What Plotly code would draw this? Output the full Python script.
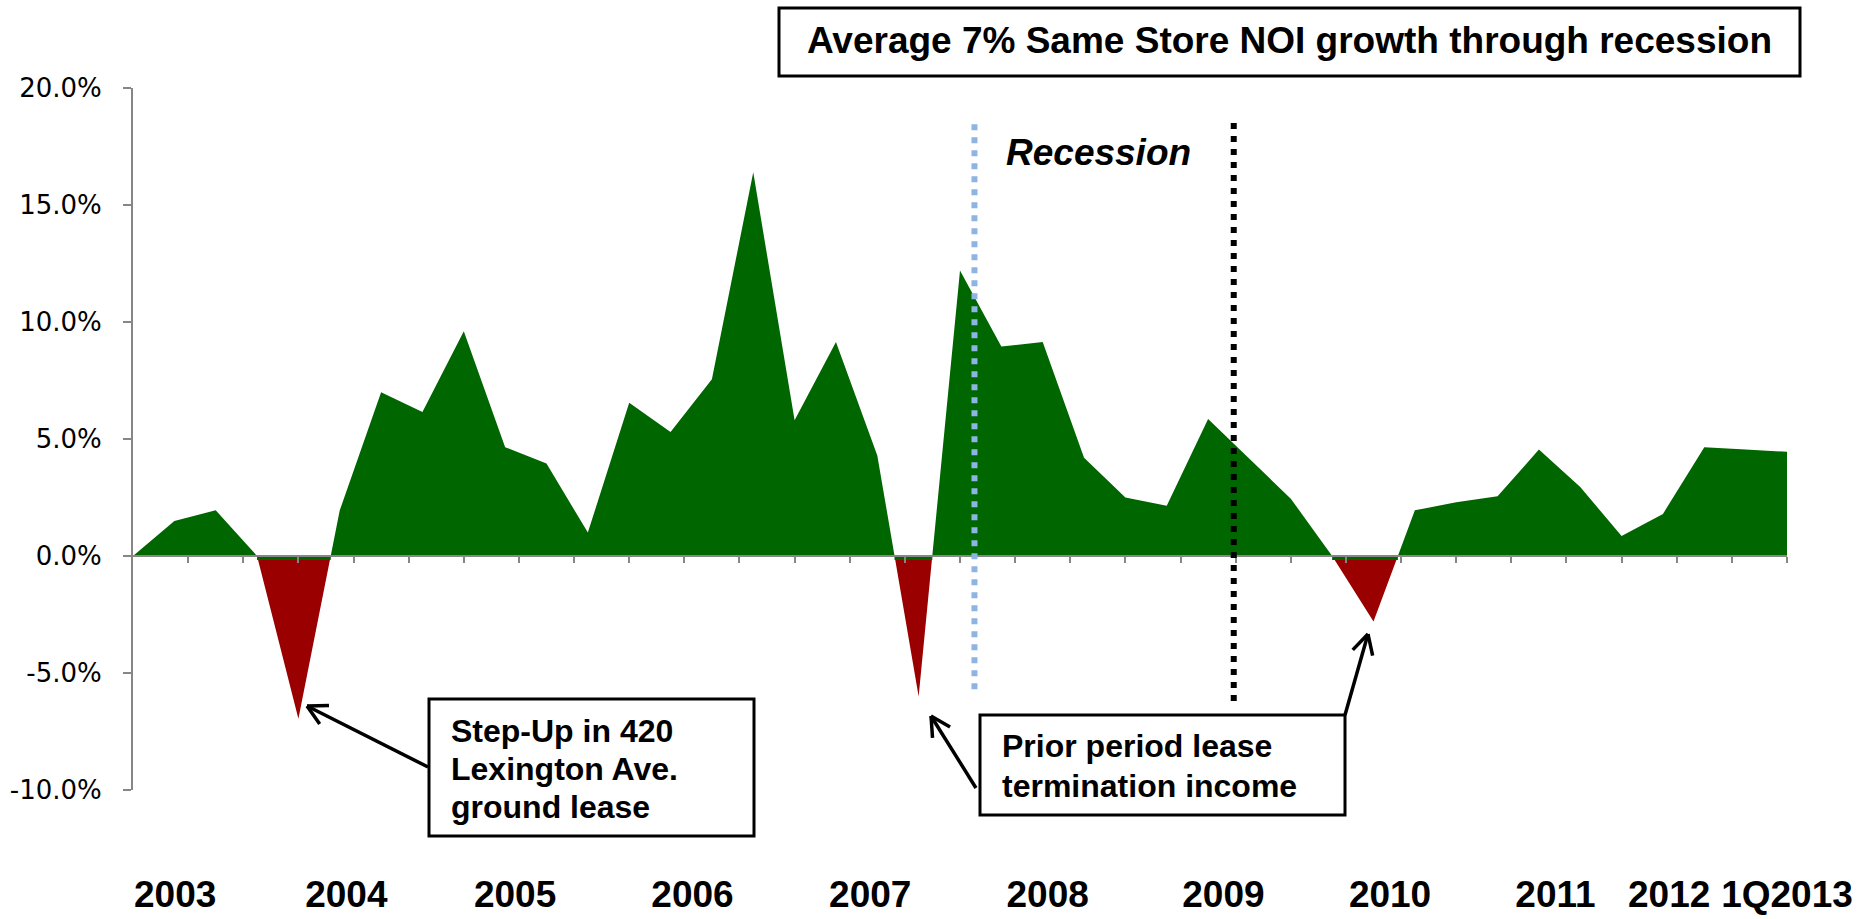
import math
import plotly.graph_objects as go

# Same store NOI growth by quarter (%), quarter index 0..40
quarter_idx = list(range(41))
noi_growth = [0.0, 1.5, 1.95, 0.0, -6.95, 1.95, 7.0, 6.15, 9.6, 4.65,
              3.95, 1.0, 6.55, 5.3, 7.55, 16.4, 5.8, 9.15, 4.3, -6.0,
              12.2, 8.95, 9.15, 4.2, 2.5, 2.15, 5.85, 4.15, 2.45, 0.0,
              -2.8, 1.95, 2.3, 2.55, 4.55, 2.95, 0.85, 1.8, 4.65, 4.55,
              4.45]

year_labels = ["2003", "2004", "2005", "2006", "2007", "2008", "2009",
               "2010", "2011", "2012", "1Q2013"]
y_ticks = [-10, -5, 0, 5, 10, 15, 20]

# Where each year label sits along the quarter axis
year_label_pos = [1.02, 5.16, 9.24, 13.53, 17.83, 22.12, 26.37, 30.4,
                  34.4, 37.15, 40.0]
# Recession start / end markers (quarter axis)
recession_start, recession_end = 20.35, 26.62

GREEN = "#006600"
RED = "#9A0000"
AXIS_GRAY = "#868686"
FONT = "Liberation Sans"

W, H = 1874, 919
L, R, T, B = 133, 87, 88, 129
PW, PH = W - L - R, H - T - B


def px_x(px):
    return (px - L) / PW


def px_y(py):
    return (H - B - py) / PH


def split_sign(xs, ys):
    """Insert zero crossings so positive and negative parts fill cleanly."""
    ox, oy = [xs[0]], [ys[0]]
    for i in range(1, len(xs)):
        x0, y0, x1, y1 = xs[i - 1], ys[i - 1], xs[i], ys[i]
        if y0 * y1 < 0:
            ox.append(x0 + (x1 - x0) * y0 / (y0 - y1))
            oy.append(0.0)
        ox.append(x1)
        oy.append(y1)
    return ox, [max(v, 0.0) for v in oy], [min(v, 0.0) for v in oy]


sx, pos_part, neg_part = split_sign(quarter_idx, noi_growth)

# spans of negative growth (between zero points)
neg_spans = []
i = 0
while i < len(sx):
    if neg_part[i] < 0:
        j = i
        while j + 1 < len(sx) and neg_part[j + 1] < 0:
            j += 1
        neg_spans.append((sx[i - 1], sx[j + 1]))
        i = j + 1
    else:
        i += 1

fig = go.Figure()

fig.add_trace(go.Scatter(x=sx, y=neg_part, mode="lines", fill="tozeroy",
                         fillcolor=RED, line=dict(width=0, color=RED),
                         hoverinfo="skip", showlegend=False))

# thin green edge along the top of each negative dip
strip = 0.17
for a, b in neg_spans:
    fig.add_trace(go.Scatter(x=[a, b, b, a, a], y=[0, 0, -strip, -strip, 0],
                             mode="lines", fill="toself", fillcolor=GREEN,
                             line=dict(width=0, color=GREEN),
                             hoverinfo="skip", showlegend=False))

fig.add_trace(go.Scatter(x=sx, y=pos_part, mode="lines", fill="tozeroy",
                         fillcolor=GREEN, line=dict(width=0, color=GREEN),
                         hoverinfo="skip", showlegend=False))

# carrier for the year-label axis
fig.add_trace(go.Scatter(x=year_label_pos, y=[None] * len(year_label_pos),
                         xaxis="x2", mode="markers", hoverinfo="skip",
                         showlegend=False))

shapes = []

# recession markers
shapes.append(dict(type="line", xref="x", yref="y", x0=recession_start,
                   x1=recession_start, y0=18.45, y1=-5.82,
                   line=dict(color="#8DB4E2", width=6, dash="6px,7px")))
shapes.append(dict(type="line", xref="x", yref="y", x0=recession_end,
                   x1=recession_end, y0=18.5, y1=-6.2,
                   line=dict(color="#000000", width=6, dash="6px,7px")))


def box(x0, y0, x1, y1):
    shapes.append(dict(type="rect", xref="paper", yref="paper",
                       x0=px_x(x0), x1=px_x(x1), y0=px_y(y0), y1=px_y(y1),
                       line=dict(color="black", width=3), fillcolor="white",
                       layer="above"))


def arrow(tail, tip, wing=22, ang=28):
    tx, ty = tail
    hx, hy = tip
    d = math.atan2(ty - hy, tx - hx)
    segs = [(tail, tip)]
    for s in (-1, 1):
        a = d + s * math.radians(ang)
        segs.append((tip, (hx + wing * math.cos(a), hy + wing * math.sin(a))))
    for (ax, ay), (bx, by) in segs:
        shapes.append(dict(type="line", xref="paper", yref="paper",
                           x0=px_x(ax), y0=px_y(ay), x1=px_x(bx), y1=px_y(by),
                           line=dict(color="black", width=3.5)))


box(779, 8, 1800, 76)
box(429, 699, 754, 836)
box(980, 715, 1345, 815)
arrow((428, 767), (307, 706))
arrow((976, 788), (931, 716))
arrow((1345, 715), (1368, 634))

annotations = []


def label(text, x, y, size, xanchor="left", italic=False):
    annotations.append(dict(
        text=text, xref="paper", yref="paper", x=px_x(x), y=px_y(y),
        xanchor=xanchor, yanchor="middle", showarrow=False,
        font=dict(family=FONT, size=size, color="black", weight="bold",
                  style="italic" if italic else "normal")))


label("Average 7% Same Store NOI growth through recession", 1289, 41, 37,
      xanchor="center")
label("Recession", 1098, 152, 37, xanchor="center", italic=True)
for n, line in enumerate(["Step-Up in 420", "Lexington Ave.", "ground lease"]):
    label(line, 449, 731 + 38 * n, 32)
for n, line in enumerate(["Prior period lease", "termination income"]):
    label(line, 1000, 746 + 39.6 * n, 32)

fig.update_layout(
    width=W, height=H, autosize=False,
    margin=dict(l=L, r=R, t=T, b=B, pad=0, autoexpand=False),
    paper_bgcolor="white", plot_bgcolor="white",
    showlegend=False,
    shapes=shapes, annotations=annotations,
    xaxis=dict(range=[0, 40], anchor="free", position=1 / 3,
               automargin=False,
               showline=True, linecolor=AXIS_GRAY, linewidth=2,
               ticks="outside", ticklen=6, tickwidth=2, tickcolor=AXIS_GRAY,
               tickvals=[4 * m / 3 for m in range(1, 31)],
               showticklabels=False, showgrid=False, zeroline=False),
    xaxis2=dict(range=[0, 40], overlaying="x", anchor="free", position=0,
                automargin=False,
                side="bottom", showline=False, ticks="", showgrid=False,
                zeroline=False, tickvals=year_label_pos,
                ticktext=year_labels, ticklabelstandoff=79,
                tickfont=dict(family=FONT, size=37, color="black",
                              weight="bold")),
    yaxis=dict(range=[-10, 20], automargin=False,
               showline=True, linecolor=AXIS_GRAY,
               linewidth=2, ticks="outside", ticklen=8, tickwidth=2,
               tickcolor=AXIS_GRAY, tickvals=y_ticks,
               ticktext=[f"{v:.1f}%" for v in y_ticks],
               ticklabelstandoff=16,
               tickfont=dict(family="DejaVu Sans", size=26, color="black"),
               showgrid=False, zeroline=False),
)

fig.write_html("out.html")
